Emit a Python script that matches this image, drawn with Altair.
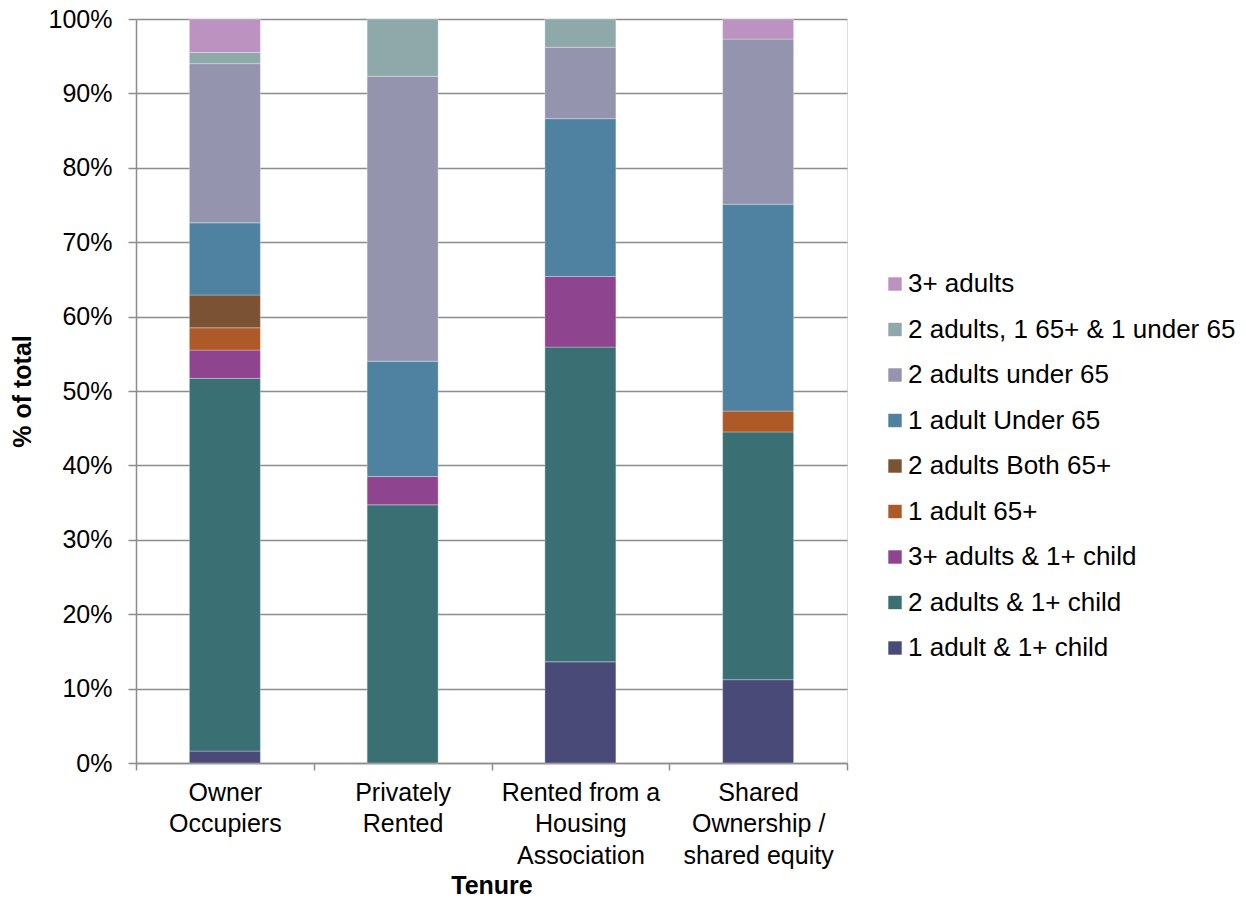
import altair as alt
import pandas as pd

# Categories (x axis), with line breaks used for the axis labels
tenures = [
    "Owner\nOccupiers",
    "Privately\nRented",
    "Rented from a\nHousing\nAssociation",
    "Shared\nOwnership /\nshared equity",
]

# Household types, bottom of stack first
groups = [
    "1 adult & 1+ child",
    "2 adults & 1+ child",
    "3+ adults & 1+ child",
    "1 adult 65+",
    "2 adults Both 65+",
    "1 adult Under 65",
    "2 adults under 65",
    "2 adults, 1 65+ & 1 under 65",
    "3+ adults",
]

colors = [
    "#4A4A79",
    "#3A7074",
    "#8E448E",
    "#AD5A28",
    "#7C5235",
    "#4F81A0",
    "#9494AF",
    "#8FA9AB",
    "#BC93C0",
]

# Percent values per household type, in tenure order
one_adult_child = [1.6, 0.0, 13.6, 11.2]
two_adults_child = [50.1, 34.7, 42.3, 33.3]
three_adults_child = [3.8, 3.8, 9.5, 0.0]
one_adult_65 = [3.0, 0.0, 0.0, 2.8]
two_adults_65 = [4.4, 0.0, 0.0, 0.0]
one_adult_u65 = [9.7, 15.5, 21.2, 27.8]
two_adults_u65 = [21.4, 38.3, 9.6, 22.2]
two_adults_mixed = [1.5, 7.7, 3.8, 0.0]
three_adults = [4.5, 0.0, 0.0, 2.7]

series = [
    one_adult_child,
    two_adults_child,
    three_adults_child,
    one_adult_65,
    two_adults_65,
    one_adult_u65,
    two_adults_u65,
    two_adults_mixed,
    three_adults,
]

y_ticks = [0, 0.1, 0.2, 0.3, 0.4, 0.5, 0.6, 0.7, 0.8, 0.9, 1.0]

rows = []
for gi, (g, vals) in enumerate(zip(groups, series)):
    for t, v in zip(tenures, vals):
        if v > 0:
            rows.append({"tenure": t, "group": g, "value": v / 100.0, "stack_idx": gi})
df = pd.DataFrame(rows)

legend_order = list(reversed(groups))
legend_colors = list(reversed(colors))

FONT = "Liberation Sans"

chart = (
    alt.Chart(df)
    .mark_bar(size=71, stroke="white", strokeWidth=0.6, strokeOpacity=0.5)
    .encode(
        x=alt.X(
            "tenure:N",
            sort=tenures,
            title="Tenure",
            scale=alt.Scale(paddingInner=0, paddingOuter=0),
            axis=alt.Axis(
                labelAngle=0,
                labelExpr="split(datum.label, '\\n')",
                labelFontSize=25,
                labelLineHeight=31.5,
                labelBaseline="top",
                labelPadding=10,
                labelColor="#000000",
                labelFont=FONT,
                tickBand="extent",
                tickSize=7,
                tickColor="#8C8C8C",
                tickWidth=1.5,
                domainColor="#8C8C8C",
                domainWidth=1.5,
                titleFontSize=25,
                titleFont=FONT,
                titleFontWeight="bold",
                titleColor="#000000",
                titlePadding=5,
                grid=False,
            ),
        ),
        y=alt.Y(
            "value:Q",
            stack="normalize",
            scale=alt.Scale(domain=[0, 1]),
            title="% of total",
            axis=alt.Axis(
                values=y_ticks,
                format=".0%",
                labelFontSize=25,
                labelFont=FONT,
                labelColor="#000000",
                labelPadding=16,
                tickSize=8,
                tickColor="#8C8C8C",
                tickWidth=1.5,
                domainColor="#8C8C8C",
                domainWidth=1.5,
                grid=True,
                gridColor="#8C8C8C",
                gridWidth=1.5,
                titleFontSize=25,
                titleFont=FONT,
                titleFontWeight="bold",
                titleColor="#000000",
                titleX=-114,
                titleY=372,
                titleAngle=-90,
                titleAlign="center",
                titleBaseline="middle",
            ),
        ),
        color=alt.Color(
            "group:N",
            sort=legend_order,
            scale=alt.Scale(domain=legend_order, range=legend_colors),
            legend=alt.Legend(
                title=None,
                orient="none",
                legendX=746,
                legendY=252,
                symbolType="square",
                symbolSize=180,
                symbolStrokeWidth=0,
                labelFontSize=26,
                labelFont=FONT,
                labelColor="#000000",
                labelOffset=0,
                rowPadding=19.5,
                padding=0,
                labelLimit=400,
            ),
        ),
        order=alt.Order("stack_idx:Q", sort="ascending"),
    )
    .properties(
        width=711,
        height=744,
        padding={"left": 128, "top": 11, "right": 390, "bottom": 131},
        autosize=alt.AutoSizeParams(type="none"),
    )
    .configure_view(stroke=None)
    .configure(background="white")
)

chart.save("out.html", embed_options={"renderer": "svg", "actions": False})
